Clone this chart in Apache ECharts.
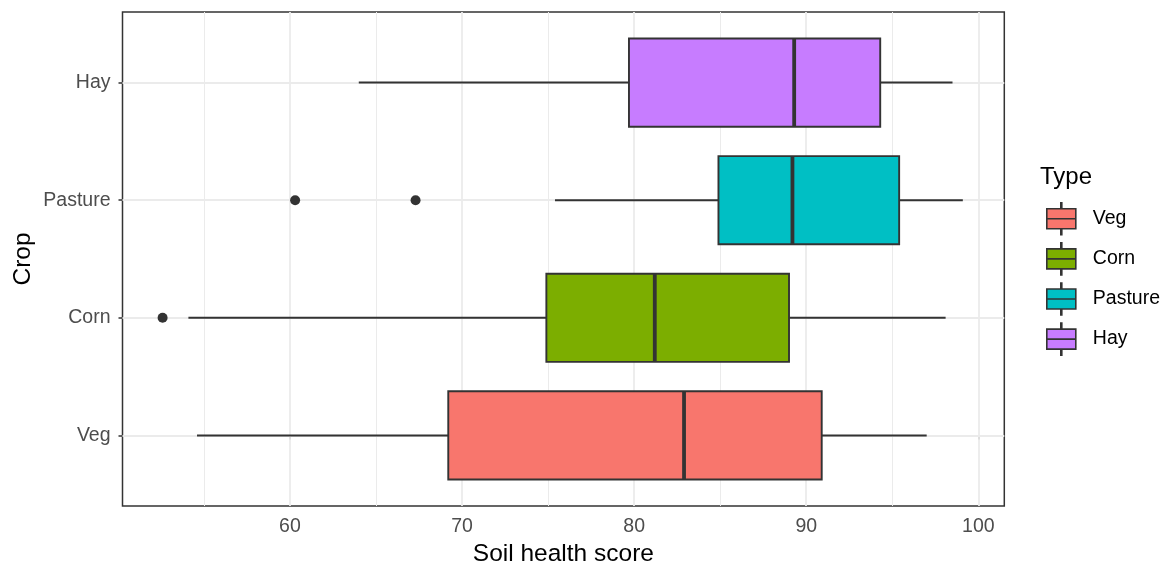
<!DOCTYPE html>
<html>
<head>
<meta charset="utf-8">
<script src="https://cdn.jsdelivr.net/npm/echarts@6/dist/echarts.min.js"></script>
<style>html,body{margin:0;padding:0;background:#fff;}#chart{width:1165px;height:566px;}</style>
</head>
<body>
<div id="chart"></div>
<script>
const categories = ['Veg', 'Corn', 'Pasture', 'Hay'];
const colors = ['#F8766D', '#7CAE00', '#00BFC4', '#C77CFF'];
const whiskerLow = [54.6, 54.1, 75.4, 64.0];
const q1 = [69.2, 74.9, 84.9, 79.7];
const median = [82.9, 81.2, 89.2, 89.3];
const q3 = [90.9, 89.0, 95.4, 94.3];
const whiskerHigh = [97.0, 98.1, 99.1, 98.5];
const outliers = [[52.6, 1], [60.3, 2], [67.3, 2]];
const xTicks = [60, 70, 80, 90, 100];
const xMinorGrid = [55, 65, 75, 85, 95];

const font = 'Liberation Sans, Arial, sans-serif';
const dark = '#333333';

function renderBox(params, api) {
  const y = api.value(0);
  const pLow = api.coord([api.value(1), y]);
  const pQ1 = api.coord([api.value(2), y]);
  const pMed = api.coord([api.value(3), y]);
  const pQ3 = api.coord([api.value(4), y]);
  const pHigh = api.coord([api.value(5), y]);
  const h = api.size([0, 1])[1] * 0.75;
  const fill = api.visual('color');
  return {
    type: 'group',
    children: [
      { type: 'line', shape: { x1: pLow[0], y1: pLow[1], x2: pQ1[0], y2: pQ1[1] }, style: { stroke: dark, lineWidth: 1.9 } },
      { type: 'line', shape: { x1: pQ3[0], y1: pQ3[1], x2: pHigh[0], y2: pHigh[1] }, style: { stroke: dark, lineWidth: 1.9 } },
      { type: 'rect', shape: { x: pQ1[0], y: pQ1[1] - h / 2, width: pQ3[0] - pQ1[0], height: h }, style: { fill: fill, stroke: dark, lineWidth: 1.9 } },
      { type: 'line', shape: { x1: pMed[0], y1: pMed[1] - h / 2, x2: pMed[0], y2: pMed[1] + h / 2 }, style: { stroke: dark, lineWidth: 3.8 } }
    ]
  };
}

const boxSeries = categories.map((c, i) => ({
  name: c,
  type: 'custom',
  z: 3,
  color: colors[i],
  itemStyle: { color: colors[i] },
  renderItem: renderBox,
  encode: { x: [1, 2, 3, 4, 5], y: 0 },
  data: [[i, whiskerLow[i], q1[i], median[i], q3[i], whiskerHigh[i]]]
}));

const legendIcon = 'path://M14,0L15,0L15,6L14,6Z M0,6L29,6L29,16L0,16Z M0,16L29,16L29,26L0,26Z M14,26L15,26L15,32L14,32Z';

const option = {
  backgroundColor: '#ffffff',
  animation: false,
  title: {
    text: 'Type',
    left: 1040,
    top: 165,
    padding: 0,
    textStyle: { fontFamily: font, fontSize: 24, fontWeight: 'normal', color: '#000' }
  },
  legend: {
    orient: 'vertical',
    left: 1046,
    top: 202,
    padding: 0,
    itemWidth: 29,
    itemHeight: 32,
    itemGap: 6.5,
    icon: legendIcon,
    data: categories,
    itemStyle: { borderColor: dark, borderWidth: 1.6 },
    textStyle: { fontFamily: font, fontSize: 19.5, color: '#000', padding: [0, 0, 0, 12] }
  },
  grid: {
    left: 122.5,
    right: 160.7,
    top: 12,
    bottom: 60,
    containLabel: false,
    outerBoundsMode: 'none',
    show: true,
    borderColor: dark,
    borderWidth: 1.5,
    backgroundColor: 'transparent'
  },
  xAxis: {
    type: 'value',
    min: 50.27,
    max: 101.51,
    name: 'Soil health score',
    nameLocation: 'middle',
    nameGap: 33,
    nameTextStyle: { fontFamily: font, fontSize: 24.5, color: '#000' },
    axisLine: { show: false },
    axisTick: { show: true, length: 4, customValues: xTicks, lineStyle: { color: dark, width: 1.5 } },
    axisLabel: { customValues: xTicks, margin: 11, fontFamily: font, fontSize: 19.5, color: '#4d4d4d' },
    splitLine: { show: false }
  },
  yAxis: {
    type: 'value',
    min: -0.6,
    max: 3.6,
    name: 'Crop',
    nameLocation: 'middle',
    nameGap: 87,
    nameMoveOverlap: false,
    nameTextStyle: { fontFamily: font, fontSize: 24.5, color: '#000' },
    axisLine: { show: false },
    axisTick: { show: true, length: 4, customValues: [0, 1, 2, 3], lineStyle: { color: dark, width: 1.5 } },
    axisLabel: {
      customValues: [0, 1, 2, 3],
      margin: 12,
      fontFamily: font,
      fontSize: 19.5,
      color: '#4d4d4d',
      formatter: v => categories[Math.round(v)] || ''
    },
    splitLine: { show: false }
  },
  series: [
    {
      name: 'gridlines',
      type: 'line',
      z: 1,
      silent: true,
      data: [],
      markLine: {
        z: 1,
        silent: true,
        symbol: 'none',
        label: { show: false },
        animation: false,
        data: [
          ...xMinorGrid.map(v => ({ xAxis: v, lineStyle: { color: '#ebebeb', width: 1, type: 'solid' } })),
          ...xTicks.map(v => ({ xAxis: v, lineStyle: { color: '#ebebeb', width: 1.8, type: 'solid' } })),
          ...categories.map((c, i) => ({ yAxis: i, lineStyle: { color: '#ebebeb', width: 1.8, type: 'solid' } }))
        ]
      }
    },
    ...boxSeries,
    {
      name: 'outliers',
      type: 'scatter',
      z: 4,
      symbol: 'circle',
      symbolSize: 10,
      itemStyle: { color: dark, opacity: 1 },
      data: outliers
    }
  ]
};

const chart = echarts.init(document.getElementById('chart'), null, { renderer: 'canvas' });
chart.setOption(option);
</script>
</body>
</html>
